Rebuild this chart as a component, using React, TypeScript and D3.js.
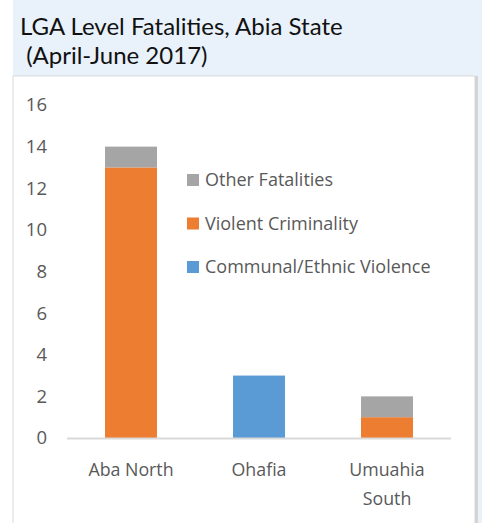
import React from "react";
import * as d3 from "d3";

const categories = ["Aba North", "Ohafia", "Umuahia South"];
const seriesNames = ["Communal/Ethnic Violence", "Violent Criminality", "Other Fatalities"];
const communal = [0, 3, 0];
const violent = [13, 0, 1];
const other = [1, 0, 1];
const yTicks = [0, 2, 4, 6, 8, 10, 12, 14, 16];
const colors = ["#5B9BD5", "#ED7D31", "#A5A5A5"];
const titleLines = ["LGA Level Fatalities, Abia State", " (April-June 2017)"];

const W = 482;
const H = 523;
const FONT = "'Open Sans', 'Noto Sans', sans-serif";

export default function App() {
  const rows = categories.map((c, i) => ({
    cat: c,
    [seriesNames[0]]: communal[i],
    [seriesNames[1]]: violent[i],
    [seriesNames[2]]: other[i],
  }));
  const stacked = d3.stack<any>().keys(seriesNames)(rows);

  const x = d3
    .scaleBand<string>()
    .domain(categories)
    .range([67, 451])
    .paddingInner(0.594)
    .paddingOuter(0.297);
  const y = d3.scaleLinear().domain([0, 16]).range([438, 105]);

  const legendOrder = [2, 1, 0];

  return (
    <svg
      width={W}
      height={H}
      style={{ position: "absolute", left: 0, top: 0, background: "#fff" }}
      fontFamily={FONT}
    >
      {/* title background */}
      <rect x={13} y={0} width={W - 13} height={H} fill="#E9F1FB" />
      {/* chart box */}
      <rect x={13} y={76} width={462} height={H - 76 + 5} fill="#fff" stroke="#D9D9D9" strokeWidth={1} />
      <rect x={475} y={76} width={3} height={H - 76} fill="#D4D4D4" />

      {titleLines.map((t, i) => (
        <text
          key={i}
          x={20}
          y={34.5 + i * 29}
          fontSize={24}
          fontFamily="Lato, 'Open Sans', sans-serif"
          fill="#111"
          style={{ whiteSpace: "pre" }}
          xmlSpace="preserve"
        >
          {t}
        </text>
      ))}

      {/* y tick labels */}
      {yTicks.map((t) => (
        <text key={t} x={47} y={y(t)} dy="0.35em" textAnchor="end" fontSize={18.5} fill="#595959">
          {t}
        </text>
      ))}

      {/* bars */}
      {stacked.map((s, si) =>
        s.map((d, i) =>
          d[1] - d[0] > 0 ? (
            <rect
              key={`${si}-${i}`}
              x={x(categories[i])}
              width={x.bandwidth()}
              y={y(d[1])}
              height={y(d[0]) - y(d[1])}
              fill={colors[si]}
            />
          ) : null
        )
      )}

      {/* x axis line */}
      <line x1={67} x2={451} y1={438.5} y2={438.5} stroke="#D9D9D9" strokeWidth={2} />

      {/* x labels */}
      {categories.map((c) => {
        const lines = c.length > 10 ? c.split(" ") : [c];
        const cx = (x(c) as number) + x.bandwidth() / 2;
        return (
          <text key={c} textAnchor="middle" fontSize={17.8} fill="#595959">
            {lines.map((l, li) => (
              <tspan key={li} x={cx} y={476 + li * 29}>
                {l}
              </tspan>
            ))}
          </text>
        );
      })}

      {/* legend */}
      {legendOrder.map((si, k) => (
        <g key={si} transform={`translate(187, ${180 + k * 43.5})`}>
          <rect x={0} y={-6} width={12} height={12} fill={colors[si]} />
          <text x={18} y={0} dy="0.35em" fontSize={18} fill="#595959">
            {seriesNames[si]}
          </text>
        </g>
      ))}
    </svg>
  );
}
